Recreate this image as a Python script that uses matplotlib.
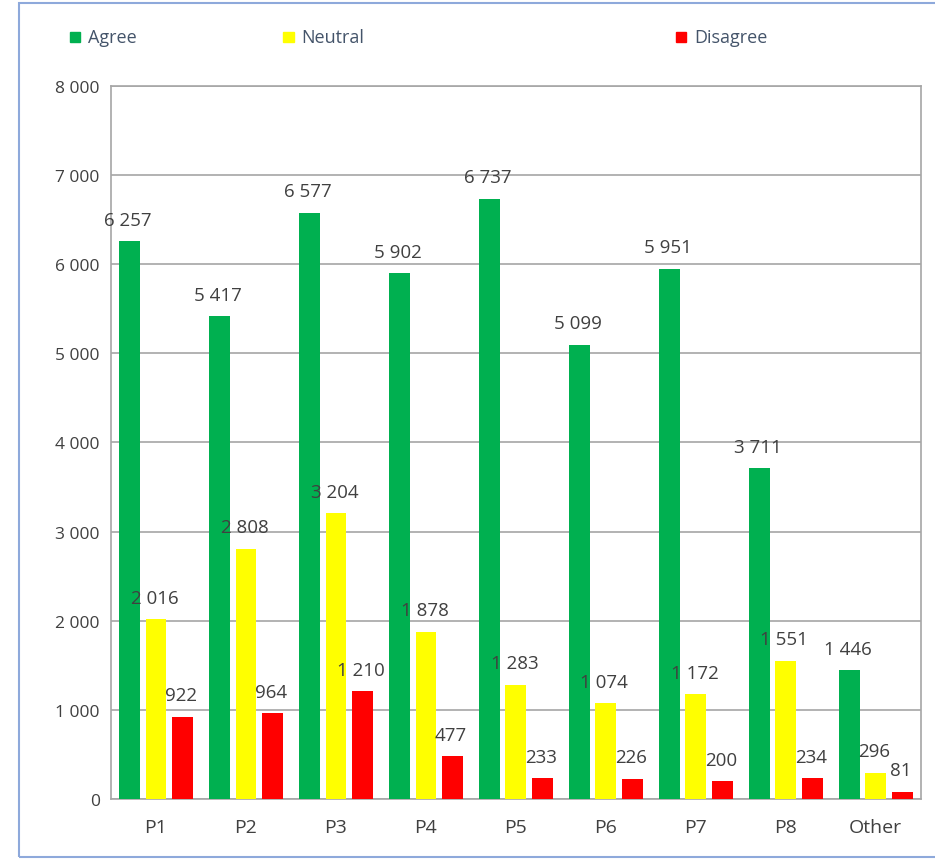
import numpy as np
import matplotlib.pyplot as plt
from matplotlib.patches import Rectangle

# data
categories = ['P1', 'P2', 'P3', 'P4', 'P5', 'P6', 'P7', 'P8', 'Other']
agree = [6257, 5417, 6577, 5902, 6737, 5099, 5951, 3711, 1446]
neutral = [2016, 2808, 3204, 1878, 1283, 1074, 1172, 1551, 296]
disagree = [922, 964, 1210, 477, 233, 226, 200, 234, 81]
series_names = ['Agree', 'Neutral', 'Disagree']
colors = ['#00b050', '#ffff00', '#ff0000']

plt.rcParams['font.family'] = ['Open Sans', 'DejaVu Sans']
txt_col = '#404040'

fig = plt.figure(figsize=(9.35, 8.62), dpi=100)
ax = fig.add_axes([0.1187, 0.072, 0.866, 0.827])

x = np.arange(len(categories))
w = 0.23
step = 0.295
for i, (vals, col) in enumerate(zip([agree, neutral, disagree], colors)):
    pos = x + (i - 1) * step
    ax.bar(pos, vals, width=w, color=col, zorder=3)
    for p, v in zip(pos, vals):
        lbl = '{:,}'.format(v).replace(',', ' ')
        ax.annotate(lbl, (p, v), xytext=(-1, 9), textcoords='offset points',
                    ha='center', va='bottom', fontsize=13.5, color=txt_col)

ax.set_xlim(-0.5, len(categories) - 0.5)
ax.set_ylim(0, 8000)
ax.set_yticks(np.arange(0, 8001, 1000))
ax.set_yticklabels(['{:,}'.format(t).replace(',', ' ') for t in range(0, 8001, 1000)])
ax.set_xticks(x)
ax.set_xticklabels(categories)
ax.tick_params(length=0, labelsize=12.5, colors=txt_col)
ax.tick_params(axis='x', pad=14, labelsize=14)
ax.tick_params(axis='y', pad=8)
ax.grid(axis='y', color='#a6a6a6', linewidth=1.2, zorder=0)
for s in ax.spines.values():
    s.set_color('#a6a6a6')
    s.set_linewidth(1.2)

# legend row at the top
leg_x = [0.075, 0.303, 0.723]
for lx, name, col in zip(leg_x, series_names, colors):
    fig.patches.append(Rectangle((lx, 0.950), 0.011, 0.012, color=col,
                                 transform=fig.transFigure, figure=fig))
    fig.text(lx + 0.019, 0.956, name, fontsize=13, color='#44546a', va='center')

# outer frame
fig.patches.append(Rectangle((0.02, 0.005), 0.985, 0.99, fill=False,
                             edgecolor='#8ea9db', linewidth=1.5,
                             transform=fig.transFigure, figure=fig))

fig.savefig('out.png', dpi=100)
